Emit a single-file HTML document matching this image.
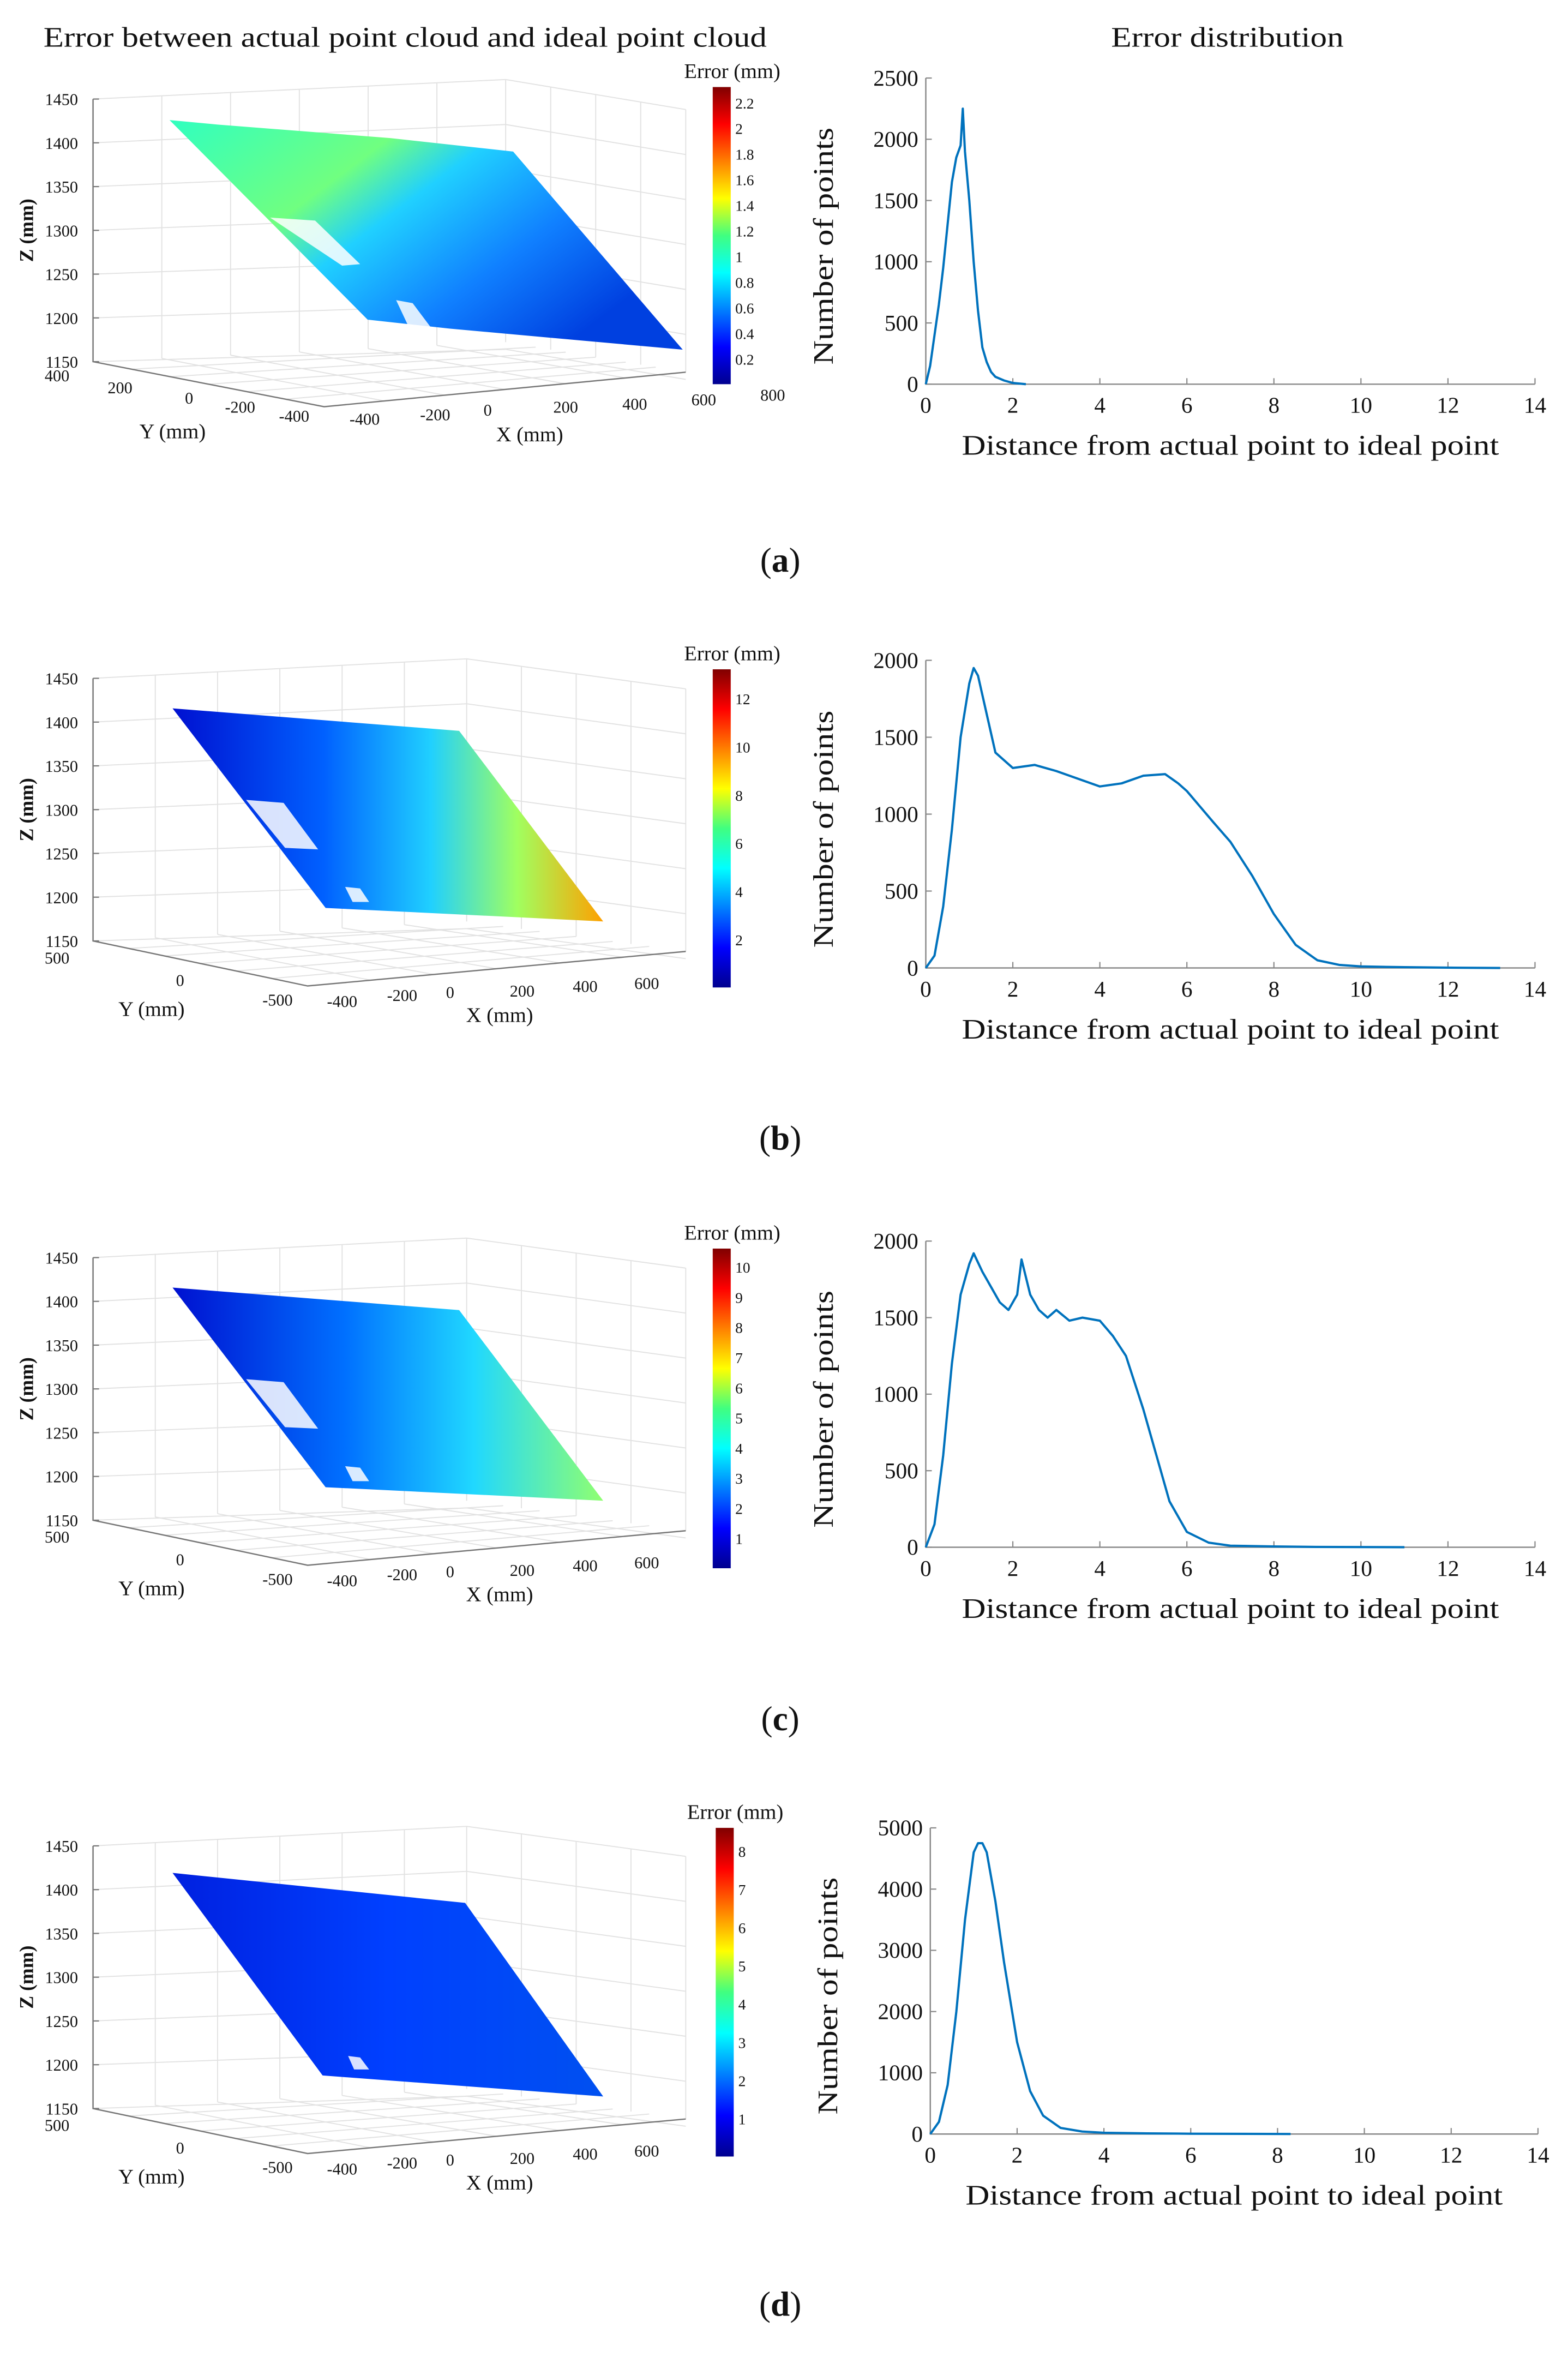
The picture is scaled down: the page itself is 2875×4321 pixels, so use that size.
<!DOCTYPE html>
<html><head><meta charset="utf-8"><style>
html,body{margin:0;padding:0;background:#fff}
svg{display:block}
text{font-family:"Liberation Serif",serif;fill:#111}
</style></head><body>
<svg id="fig" width="2875" height="4321" viewBox="0 0 2875 4321" xmlns="http://www.w3.org/2000/svg" font-family="Liberation Serif, serif">
<defs>
<linearGradient id="jet" x1="0" y1="1" x2="0" y2="0">
<stop offset="0" stop-color="#00008f"/><stop offset="0.125" stop-color="#0000ff"/><stop offset="0.375" stop-color="#00ffff"/><stop offset="0.5" stop-color="#40ff80"/><stop offset="0.625" stop-color="#ffff00"/><stop offset="0.875" stop-color="#ff0000"/><stop offset="1" stop-color="#800000"/>
</linearGradient>
<linearGradient id="sa" x1="0" y1="0" x2="1" y2="0.6">
<stop offset="0" stop-color="#30ffc0"/><stop offset="0.35" stop-color="#70ff80"/><stop offset="0.5" stop-color="#20d0ff"/><stop offset="0.75" stop-color="#1080ff"/><stop offset="1" stop-color="#0040e0"/>
</linearGradient>
<linearGradient id="sb" x1="0" y1="0" x2="1" y2="0">
<stop offset="0" stop-color="#0010d0"/><stop offset="0.35" stop-color="#0060ff"/><stop offset="0.6" stop-color="#20d0ff"/><stop offset="0.8" stop-color="#a0ff60"/><stop offset="1" stop-color="#ffa000"/>
</linearGradient>
<linearGradient id="sc" x1="0" y1="0" x2="1" y2="0">
<stop offset="0" stop-color="#0010d0"/><stop offset="0.4" stop-color="#0070ff"/><stop offset="0.7" stop-color="#20d8ff"/><stop offset="1" stop-color="#90ff70"/>
</linearGradient>
<linearGradient id="sd" x1="0" y1="0" x2="1" y2="0">
<stop offset="0" stop-color="#0020e0"/><stop offset="0.5" stop-color="#0040ff"/><stop offset="1" stop-color="#0050f0"/>
</linearGradient>
</defs>
<g id="root" transform="scale(2.7512)" font-family="Liberation Serif, serif"></g>
</svg>
<script>
// ---- histogram data ----
const histAX=[0,0.1,0.2,0.3,0.4,0.5,0.6,0.7,0.8,0.85,0.9,1.0,1.1,1.2,1.3,1.4,1.5,1.6,1.8,2.0,2.3];
const histAY=[0,150,400,650,950,1300,1650,1850,1950,2250,1900,1500,1000,600,300,180,100,60,30,10,0];
const histBX=[0,0.2,0.4,0.6,0.8,1.0,1.1,1.2,1.4,1.6,1.8,2,2.5,3,3.5,4,4.5,5,5.5,5.8,6,6.3,6.6,7,7.5,8,8.5,9,9.5,10,11,12,13.2];
const histBY=[0,80,400,900,1500,1850,1950,1900,1650,1400,1350,1300,1320,1280,1230,1180,1200,1250,1260,1200,1150,1050,950,820,600,350,150,50,20,10,5,2,0];
const histCX=[0,0.2,0.4,0.6,0.8,1.0,1.1,1.3,1.5,1.7,1.9,2.1,2.2,2.4,2.6,2.8,3,3.3,3.6,4,4.3,4.6,5,5.3,5.6,6,6.5,7,8,9,11];
const histCY=[0,150,600,1200,1650,1850,1920,1800,1700,1600,1550,1650,1880,1650,1550,1500,1550,1480,1500,1480,1380,1250,900,600,300,100,30,10,5,2,0];
const histDX=[0,0.2,0.4,0.6,0.8,1.0,1.1,1.2,1.3,1.5,1.7,2,2.3,2.6,3,3.5,4,5,6,8.3];
const histDY=[0,200,800,2000,3500,4600,4750,4750,4600,3800,2800,1500,700,300,100,40,20,10,5,0];
const xTicks=[0,2,4,6,8,10,12,14];
const yTicksA=[0,500,1000,1500,2000,2500];
const yTicksB=[0,500,1000,1500,2000];
const yTicksD=[0,1000,2000,3000,4000,5000];
const cbTicksA=["2.2","2","1.8","1.6","1.4","1.2","1","0.8","0.6","0.4","0.2"];
const cbTicksB=["12","10","8","6","4","2"];
const cbTicksC=["10","9","8","7","6","5","4","3","2","1"];
const cbTicksD=["8","7","6","5","4","3","2","1"];

const NS="http://www.w3.org/2000/svg";
const root=document.getElementById('root');
function mk(tag,attrs,parent,txt){const e=document.createElementNS(NS,tag);for(const k in attrs)e.setAttribute(k,attrs[k]);if(tag==='text')e.setAttribute('font-family','Liberation Serif, serif');if(txt!==undefined)e.textContent=txt;(parent||root).appendChild(e);return e;}

let t=mk('text',{x:270,y:31,'font-size':19,'text-anchor':'middle',textLength:482,lengthAdjust:'spacingAndGlyphs'},root,'Error between actual point cloud and ideal point cloud');


t=mk('text',{x:818,y:31,'font-size':19,'text-anchor':'middle',textLength:155,lengthAdjust:'spacingAndGlyphs'},root,'Error distribution');



function hist(name,X,Y,yTicks,ymax,x0,x1,yb,yt){
  const g=mk('g',{});
  
  
  const sx=v=>x0+(x1-x0)*v/14, sy=v=>yb-(yb-yt)*v/ymax;
  let a=mk('path',{d:`M${x0},${yt} V${yb} H${x1}`,stroke:'#888',fill:'none','stroke-width':0.9},g);
  
  
  xTicks.forEach(v=>{mk('line',{x1:sx(v),x2:sx(v),y1:yb,y2:yb-4,stroke:'#888','stroke-width':0.8},g);
    const l=mk('text',{x:sx(v),y:yb+19,'font-size':15,'text-anchor':'middle'},g,String(v));
    
    });
  yTicks.forEach(v=>{mk('line',{x1:x0,x2:x0+4,y1:sy(v),y2:sy(v),stroke:'#888','stroke-width':0.8},g);
    const l=mk('text',{x:x0-5,y:sy(v)+5,'font-size':15,'text-anchor':'end'},g,String(v));
    
    });
  const d=X.map((v,i)=>(i?'L':'M')+sx(v).toFixed(2)+','+sy(Y[i]).toFixed(2)).join(' ');
  const p=mk('path',{d,stroke:'#0072bd',fill:'none','stroke-width':1.5,'stroke-linejoin':'round'},g);
  
  
  const xl=mk('text',{x:(x0+x1)/2,y:yb+47,'font-size':19,'text-anchor':'middle',textLength:358,lengthAdjust:'spacingAndGlyphs'},g,'Distance from actual point to ideal point');
  
  
  const cy=(yb+yt)/2+10;
  const yl=mk('text',{x:0,y:0,'font-size':19,'text-anchor':'middle',transform:`translate(${x0-62},${cy}) rotate(-90)`,textLength:158,lengthAdjust:'spacingAndGlyphs'},g,'Number of points');
  
  
}
hist('histogram-a',histAX,histAY,yTicksA,2500,617,1023,256,52);
hist('histogram-b',histBX,histBY,yTicksB,2000,617,1023,645,440);
hist('histogram-c',histCX,histCY,yTicksB,2000,617,1023,1031,827);
hist('histogram-d',histDX,histDY,yTicksD,5000,620,1025,1422,1218);

function plot3d(name,dy,ytl,xtl,surf,grad,cbTop,cbBot,cbTicks,cbx,bd,holes){
  const g=mk('g',{transform:`translate(0,${dy})`});
  
  
  const top=66,bot=241;
  const bx=bd.bx, rx=bd.rx, fx=bd.fx;
  const gs={stroke:'#e2e2e2','stroke-width':0.7,fill:'none'};
  for(let i=0;i<7;i++){const y=top+(bot-top)*i/6; mk('line',Object.assign({x1:62,y1:y,x2:bx,y2:y-13+(i*0.8)},gs),g); mk('line',Object.assign({x1:bx,y1:y-13+(i*0.8),x2:rx,y2:y+7+(i*0.8)},gs),g);}
  for(let i=1;i<6;i++){const x=62+(bx-62)*i/6; mk('line',Object.assign({x1:x,y1:top-13*i/6,x2:x,y2:bot-13*i/6},gs),g);}
  for(let i=1;i<4;i++){const x=bx+(rx-bx)*i/4; mk('line',Object.assign({x1:x,y1:top-13+20*i/4,x2:x,y2:bot-13+20*i/4},gs),g);}
  mk('line',Object.assign({x1:bx,y1:top-13,x2:bx,y2:bot-13},gs),g);
  mk('line',Object.assign({x1:rx,y1:top+7,x2:rx,y2:bot+7},gs),g);
  for(let i=1;i<6;i++){mk('line',Object.assign({x1:62+(fx-62)*i/6,y1:bot+30*i/6,x2:bx+(rx-bx)*i/6,y2:bot-13+20*i/6},gs),g);}
  for(let i=1;i<6;i++){const x=fx+(rx-fx)*i/6; mk('line',Object.assign({x1:x,y1:bot+30-23*i/6,x2:62+(bx-62)*i/6,y2:bot-13*i/6},gs),g);}
  const ax={stroke:'#777','stroke-width':0.9,fill:'none'};
  const za=mk('path',Object.assign({d:`M62,${top} V${bot} L${fx},${bot+30} L${rx},${bot+7}`},ax),g);
  
  
  ['1450','1400','1350','1300','1250','1200','1150'].forEach((s,i)=>{const y=top+(bot-top)*i/6;
    mk('line',{x1:62,x2:66,y1:y,y2:y,stroke:'#777','stroke-width':0.8},g);
    const l=mk('text',{x:52,y:y+4,'font-size':11,'text-anchor':'end'},g,s);
    
    });
  const zl=mk('text',{x:0,y:0,'font-size':13,'font-weight':'bold','text-anchor':'middle',transform:`translate(22,${(top+bot)/2}) rotate(-90)`},g,'Z (mm)');
  
  
  ytl.forEach(([s,x,y])=>{const l=mk('text',{x,y,'font-size':11,'text-anchor':'middle'},g,s);
    
    });
  xtl.forEach(([s,x,y])=>{const l=mk('text',{x,y,'font-size':11,'text-anchor':'middle'},g,s);
    
    });
  const yt=mk('text',{x:bd.ylx,y:bd.yly,'font-size':14,'text-anchor':'middle'},g,'Y (mm)');
  
  
  const xt=mk('text',{x:bd.xlx,y:bd.xly,'font-size':14,'text-anchor':'middle'},g,'X (mm)');
  
  
  const s=mk('polygon',{points:surf,fill:`url(#${grad})`},g);
  
  
  holes.forEach(h=>{const r=mk('polygon',{points:h,fill:'#fff',opacity:0.85},g);
    
    });
  const cb=mk('g',{transform:`translate(0,${-dy})`},g);
  
  
  mk('rect',{x:cbx,y:cbTop,width:12,height:cbBot-cbTop,fill:'url(#jet)'},cb);
  const n=cbTicks.length;
  const step=(cbBot-cbTop)/(n+0.6);
  cbTicks.forEach((s,i)=>{const y=cbTop+step*(i+0.6);const l=mk('text',{x:cbx+15,y:y+4,'font-size':10},cb,s);
    
    });
  const ct=mk('text',{x:cbx+13,y:cbTop-6,'font-size':14,'text-anchor':'middle'},cb,'Error (mm)');
  
  
}
const boxA={bx:337,rx:457,fx:216,ylx:115,yly:292,xlx:353,xly:294};
plot3d('point-cloud-a',0,[['400',38,254],['200',80,262],['0',126,269],['-200',160,275],['-400',196,281]],
 [['-400',243,283],['-200',290,280],['0',325,277],['200',377,275],['400',423,273],['600',469,270],['800',515,267]],
 '113,80 145,83 260,92 342,101 455,233 300,219 245,213',
 'sa',58,256,cbTicksA,475,boxA,['180,145 210,147 240,176 228,177','264,200 275,202 287,218 272,217']);
const boxB={bx:311,rx:457,fx:205,ylx:101,yly:291,xlx:333,xly:295};
const ytlB=[['500',38,256],['0',120,271],['-500',185,284]];
const xtlB=[['-400',228,285],['-200',268,281],['0',300,279],['200',348,278],['400',390,275],['600',431,273]];
plot3d('point-cloud-b',386,ytlB,xtlB,'115,86 306,101 402,228 217,219','sb',446,658,cbTicksB,475,boxB,['164,147 189,149 212,180 190,179','230,205 240,206 246,215 235,215']);
plot3d('point-cloud-c',772,ytlB,xtlB,'115,86 306,101 402,228 217,219','sc',832,1045,cbTicksC,475,boxB,['164,147 189,149 212,180 190,179','230,205 240,206 246,215 235,215']);
plot3d('point-cloud-d',1164,ytlB,xtlB,'115,84 310,104 402,233 215,219','sd',1218,1437,cbTicksD,477,boxB,['232,206 240,207 246,215 236,215']);

[['(a)',373],['(b)',758],['(c)',1145],['(d)',1535]].forEach(([s,y])=>{
  const c=mk('text',{x:520,y:y+8,'font-size':23,'text-anchor':'middle'},root);
  
  
  mk('tspan',{},c,'(');mk('tspan',{'font-weight':'bold'},c,s[1]);mk('tspan',{},c,')');
});
</script>
</body></html>
